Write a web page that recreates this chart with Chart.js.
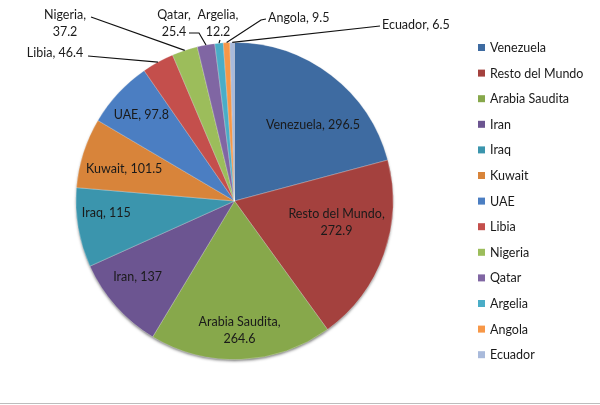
<!DOCTYPE html>
<html>
<head>
<meta charset="utf-8">
<script src="https://cdn.jsdelivr.net/npm/chart.js@4"></script>
<style>
  html, body { margin: 0; padding: 0; background: #fff; }
  #wrap { width: 600px; height: 405px; position: relative; }
</style>
</head>
<body>
<div id="wrap"><canvas id="pie_chart"></canvas></div>
<script>
const countries = ["Venezuela", "Resto del Mundo", "Arabia Saudita", "Iran", "Iraq", "Kuwait",
  "UAE", "Libia", "Nigeria", "Qatar", "Argelia", "Angola", "Ecuador"];
const reserves = [296.5, 272.9, 264.6, 137, 115, 101.5, 97.8, 46.4, 37.2, 25.4, 12.2, 9.5, 6.5];

const colors = ["#3e6ba1", "#a4413e", "#87a84b", "#6c5591", "#3b95ad", "#d8843a",
  "#4b7ec2", "#c44f4c", "#9cbd5b", "#8066a3", "#4aadc7", "#f79747", "#a9badb"];

const FONT = "12.5px Lato, 'Open Sans', sans-serif";
const LINE_H = 17;

// inside labels: fraction of radius along mid angle, plus a nudge (px)
const insideLayout = {
  "Venezuela": { f: 0.75, dx: 6, dy: 18, lines: 1 },
  "Resto del Mundo": { f: 0.75, dx: -10, dy: -18, lines: 2 },
  "Arabia Saudita": { f: 0.75, dx: 0, dy: 11, lines: 2 },
  "Iran": { f: 0.75, dx: -8, dy: -3, lines: 1 },
  "Iraq": { f: 0.75, dx: -11, dy: -8, lines: 1 },
  "Kuwait": { f: 0.75, dx: 3, dy: 4, lines: 1 },
  "UAE": { f: 0.75, dx: -6, dy: -5, lines: 1 },
};

// outside labels: text anchor, alignment, and where the leader line leaves the text
const outsideLayout = {
  "Libia": { x: 55, y: 53, align: "center", lines: 1, from: [[88, 56]] },
  "Nigeria": { x: 65, y: 15, align: "center", lines: 2, from: [[91, 17]] },
  "Qatar": { x: 174, y: 15, align: "center", lines: 2, from: [[189, 33], [199, 33]] },
  "Argelia": { x: 218, y: 15, align: "center", lines: 2, from: [[220, 40]] },
  "Angola": { x: 268, y: 18, align: "left", lines: 1, from: [[266, 19], [261, 20]] },
  "Ecuador": { x: 382, y: 25, align: "left", lines: 1, from: [[380, 26]] },
};

function labelLines(name, value, n) {
  return n === 2 ? [name + ",", String(value)] : [name + ", " + value];
}

const pieLabels = {
  id: "pieLabels",
  beforeDatasetsDraw(chart) {
    const arc = chart.getDatasetMeta(0).data[0];
    const c = chart.ctx;
    c.save();
    c.shadowColor = "rgba(0,0,0,0.55)";
    c.shadowBlur = 3;
    c.shadowOffsetY = 2;
    c.fillStyle = "#555";
    c.beginPath();
    c.arc(arc.x, arc.y, arc.outerRadius - 0.5, 0, Math.PI * 2);
    c.fill();
    c.restore();
  },
  afterDatasetsDraw(chart) {
    const c = chart.ctx;
    const meta = chart.getDatasetMeta(0);
    c.save();
    c.font = FONT;
    c.fillStyle = "#1a1a1a";
    c.textBaseline = "middle";
    meta.data.forEach((arc, i) => {
      const name = chart.data.labels[i];
      const value = chart.data.datasets[0].data[i];
      const mid = (arc.startAngle + arc.endAngle) / 2;
      if (insideLayout[name]) {
        const L = insideLayout[name];
        const r = arc.outerRadius * L.f;
        const x = arc.x + Math.cos(mid) * r + L.dx;
        const y = arc.y + Math.sin(mid) * r + L.dy;
        const lines = labelLines(name, value, L.lines);
        c.textAlign = "center";
        lines.forEach((t, k) => c.fillText(t, x, y + (k - (lines.length - 1) / 2) * LINE_H));
      } else if (outsideLayout[name]) {
        const L = outsideLayout[name];
        const ex = arc.x + Math.cos(mid) * arc.outerRadius;
        const ey = arc.y + Math.sin(mid) * arc.outerRadius;
        c.strokeStyle = "#111";
        c.lineWidth = 1.2;
        c.beginPath();
        c.moveTo(L.from[0][0], L.from[0][1]);
        for (let k = 1; k < L.from.length; k++) c.lineTo(L.from[k][0], L.from[k][1]);
        c.lineTo(ex, ey);
        c.stroke();
        const lines = labelLines(name, value, L.lines);
        c.textAlign = L.align;
        lines.forEach((t, k) => c.fillText(t, L.x, L.y + k * LINE_H));
      }
    });
    c.restore();
  },
  afterDraw(chart) {
    // legend on the right
    const c = chart.ctx;
    c.save();
    c.font = FONT;
    c.textBaseline = "middle";
    c.textAlign = "left";
    chart.data.labels.forEach((name, i) => {
      const y = 48 + i * 25.6;
      c.fillStyle = colors[i];
      c.fillRect(478, y - 4, 7, 7);
      c.fillStyle = "#1a1a1a";
      c.fillText(name, 490, y);
    });
    // bottom frame line
    c.strokeStyle = "#bdbdbd";
    c.lineWidth = 1;
    c.beginPath();
    c.moveTo(0, 403.5);
    c.lineTo(600, 403.5);
    c.stroke();
    c.restore();
  },
};

const ctx = document.getElementById("pie_chart");

new Chart(ctx, {
  type: "pie",
  data: {
    labels: countries,
    datasets: [
      {
        data: reserves,
        backgroundColor: colors,
        borderColor: "rgba(255,255,255,0.35)",
        borderWidth: 0.8,
      },
    ],
  },
  options: {
    responsive: true,
    maintainAspectRatio: false,
    animation: false,
    layout: { padding: { left: 75, right: 206, top: 42, bottom: 45 } },
    plugins: { legend: { display: false }, tooltip: { enabled: false }, title: { display: false } },
  },
  plugins: [pieLabels],
});
</script>
</body>
</html>
